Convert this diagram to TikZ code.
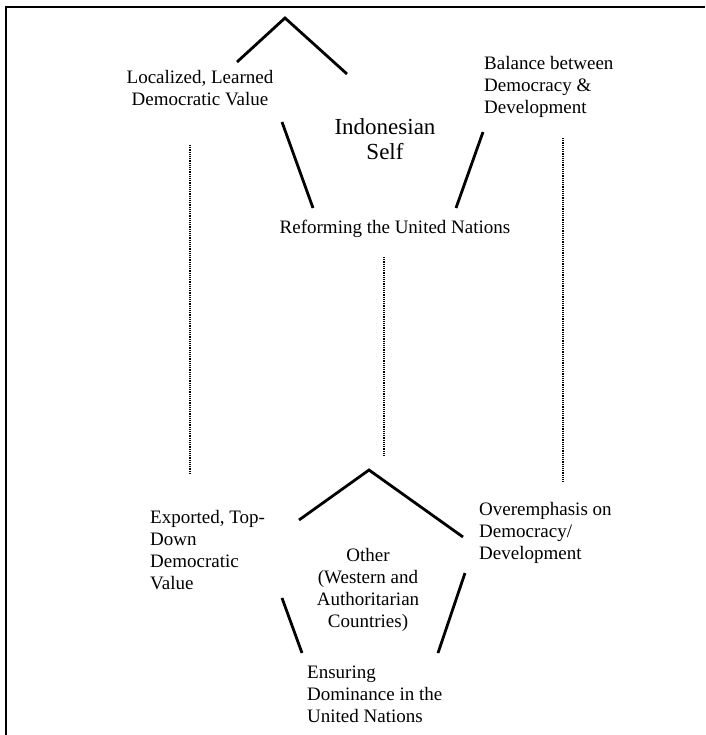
\documentclass[tikz,border=0pt]{standalone}
\usepackage{fontspec}
\setmainfont{Liberation Serif}
\begin{document}
\begin{tikzpicture}[x=1pt,y=-1pt,
	side/.style={line width=2.8pt},
	link/.style={densely dotted, line width=1.2pt},
	lbl/.style={inner sep=0pt, font=\fontsize{19}{22}\selectfont}]
	\useasboundingbox (0,0) rectangle (705,735);

	% Frame
	\draw[line width=1.5pt] (6,735) -- (6,7) -- (705,7);

	% Indonesian self
	\node[lbl, font=\fontsize{23}{25}\selectfont, align=center] (self) at (385,139) {Indonesian\\Self};
	\node[lbl, align=center] (local) at (200,88) {Localized, Learned\\Democratic Value};
	\node[lbl, align=left, anchor=west] (balance) at (484,87) {Balance between\\Democracy \&\\Development};
	\node[lbl] (reform) at (395,229) {Reforming the United Nations};

	% Upper pentagon
	\draw[side] (237,62) -- (285,18) -- (347,74);
	\draw[side] (282,122) -- (313,208);
	\draw[side] (483,132) -- (456,208);

	% Other
	\node[lbl, align=center] (other) at (368,590) {Other\\(Western and\\Authoritarian\\Countries)};
	\node[lbl, align=left, anchor=west] (export) at (150,550) {Exported, Top-\\Down\\Democratic\\Value};
	\node[lbl, align=left, anchor=west] (over) at (479,533) {Overemphasis on\\Democracy/\\Development};
	\node[lbl, align=left, anchor=west] (ensure) at (307,694) {Ensuring\\Dominance in the\\United Nations};

	% Lower pentagon
	\draw[side] (299,520) -- (369,470) -- (463,537);
	\draw[side] (282,598) -- (302,653);
	\draw[side] (465,573) -- (438,653);

	% Dotted links
	\coordinate (localL) at (190,145);
	\coordinate (exportL) at (190,473);
	\coordinate (reformL) at (384,257);
	\coordinate (otherL) at (384,457);
	\coordinate (balanceL) at (563,138);
	\coordinate (overL) at (563,483);
	\draw[link] (localL) -- (exportL);
	\draw[link] (reformL) -- (otherL);
	\draw[link] (balanceL) -- (overL);
\end{tikzpicture}
\end{document}
